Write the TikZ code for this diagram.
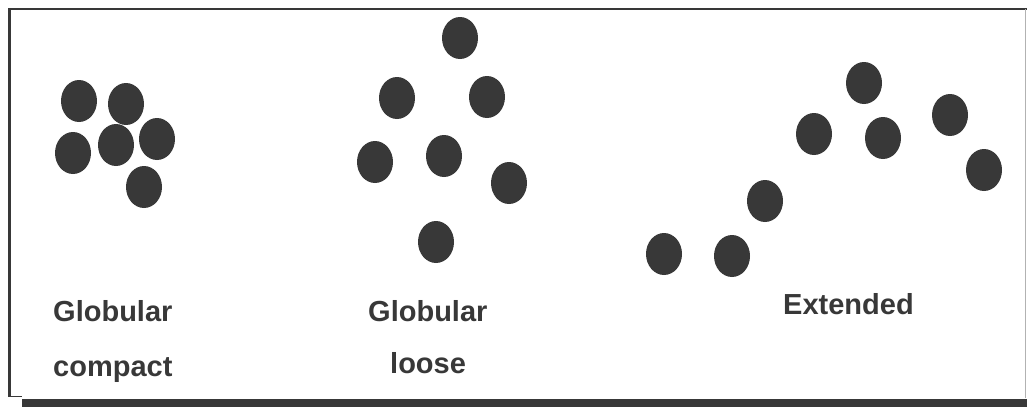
\documentclass[tikz,border=0pt]{standalone}
\usepackage{fontspec}
\setmainfont{Liberation Sans}
\definecolor{ink}{HTML}{383838}
\tikzset{
  dot/.style={ellipse, fill=ink, minimum width=36pt, minimum height=42pt, inner sep=0pt},
  lbl/.style={text=ink, font=\bfseries\fontsize{29}{34}\selectfont, inner sep=0pt, anchor=base west},
}
\usetikzlibrary{shapes.geometric}
\begin{document}
\begin{tikzpicture}[x=1pt,y=-1pt]
\useasboundingbox (0,0) rectangle (1027,407);
% frame
\draw[ink, line width=2.5pt] (9.5,9) -- (1027,9);
\draw[ink, line width=2.5pt] (9.5,8) -- (9.5,397);
\draw[ink, line width=1.5pt] (9.5,396.5) -- (22,396.5);
\draw[gray!60, line width=1pt] (1025.5,9) -- (1025.5,398);
\fill[ink] (22,399) rectangle (1027,407);
% compact
\node[dot] (c1) at (79,101) {};
\node[dot] (c2) at (126,104) {};
\node[dot] (c3) at (73,153) {};
\node[dot] (c4) at (116,145) {};
\node[dot] (c5) at (157,139) {};
\node[dot] (c6) at (144,187) {};
% loose
\node[dot] (l1) at (460,38) {};
\node[dot] (l2) at (397,98) {};
\node[dot] (l3) at (487,97) {};
\node[dot] (l4) at (375,162) {};
\node[dot] (l5) at (444,156) {};
\node[dot] (l6) at (509,183) {};
\node[dot] (l7) at (436,242) {};
% extended
\node[dot] (e1) at (864,83) {};
\node[dot] (e2) at (814,134) {};
\node[dot] (e3) at (883,138) {};
\node[dot] (e4) at (950,115) {};
\node[dot] (e5) at (984,170) {};
\node[dot] (e6) at (765,201) {};
\node[dot] (e7) at (664,254) {};
\node[dot] (e8) at (732,256) {};
% labels
\node[lbl] (t1) at (53,321) {Globular};
\node[lbl] (t2) at (53,376) {compact};
\node[lbl] (t3) at (368,321) {Globular};
\node[lbl] (t4) at (390,373) {loose};
\node[lbl] (t5) at (783,314) {Extended};
\end{tikzpicture}
\end{document}
